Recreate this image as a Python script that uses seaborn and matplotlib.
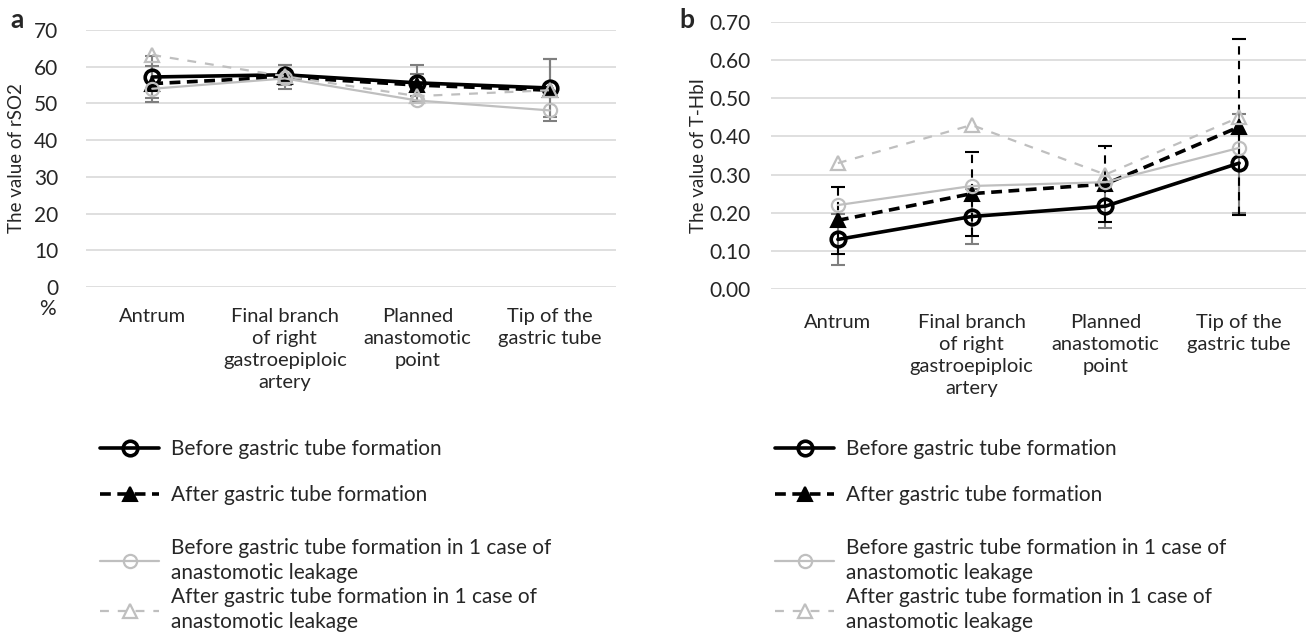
import matplotlib
matplotlib.use("Agg")
import matplotlib.pyplot as plt
import numpy as np
import seaborn as sns
from matplotlib.lines import Line2D

categories = ["Antrum", "Final branch\nof right\ngastroepiploic\nartery",
              "Planned\nanastomotic\npoint", "Tip of the\ngastric tube"]
series_labels = ["Before gastric tube formation",
                 "After gastric tube formation",
                 "Before gastric tube formation in 1 case of\nanastomotic leakage",
                 "After gastric tube formation in 1 case of\nanastomotic leakage"]

# panel a: rSO2 (%)
rso2_before = [57.2, 57.8, 55.6, 54.2]
rso2_after = [55.4, 57.2, 55.0, 53.6]
rso2_leak_before = [54.0, 56.8, 50.8, 48.1]
rso2_leak_after = [63.2, 57.4, 52.0, 53.6]
rso2_before_err = [5.8, 2.7, 5.0, 7.8]
rso2_after_err = [4.9, 3.3, 3.0, 8.5]

# panel b: T-HbI
thbi_before = [0.13, 0.19, 0.217, 0.33]
thbi_after = [0.18, 0.25, 0.275, 0.425]
thbi_leak_before = [0.22, 0.27, 0.28, 0.37]
thbi_leak_after = [0.33, 0.43, 0.30, 0.45]
thbi_before_err = [0.067, 0.072, 0.058, 0.13]
thbi_after_err = [0.087, 0.11, 0.10, 0.23]

BLACK = "#000000"
LGREY = "#BFBFBF"
EGREY = "#7F7F7F"
GRID = "#D9D9D9"

STYLES = [
    dict(color=BLACK, linewidth=2.6, linestyle="-", marker="o", markersize=10.5,
         markerfacecolor="none", markeredgecolor=BLACK, markeredgewidth=2.6),
    dict(color=BLACK, linewidth=2.6, linestyle=(0, (3, 1.8)), marker="^", markersize=10.5,
         markerfacecolor=BLACK, markeredgecolor=BLACK, markeredgewidth=1.5),
    dict(color=LGREY, linewidth=1.6, linestyle="-", marker="o", markersize=9.5,
         markerfacecolor="none", markeredgecolor=LGREY, markeredgewidth=1.6),
    dict(color=LGREY, linewidth=1.6, linestyle=(0, (4, 4)), marker="^", markersize=9.5,
         markerfacecolor="none", markeredgecolor=LGREY, markeredgewidth=1.6),
]

sns.set_style("white")
plt.rcParams["font.family"] = ["Lato", "DejaVu Sans"]

fig = plt.figure(figsize=(13.09, 6.42), dpi=100)
ax_a = fig.add_axes([86 / 1309, 1 - 287 / 642, 530 / 1309, 257 / 642])
ax_b = fig.add_axes([771 / 1309, 1 - 289 / 642, 535 / 1309, 267 / 642])

x = np.arange(len(categories))


def draw_panel(ax, series, errs, err_styles, ylim, yticks, fmt, ylabel, xpad, ypad):
    # error bars behind the lines
    for vals, y_err, (ecol, els, elw) in zip(series[:2], errs, err_styles):
        eb = ax.errorbar(x, vals, yerr=y_err, fmt="none", ecolor=ecol,
                         elinewidth=elw, capsize=5, capthick=elw, zorder=1)
        eb[2][0].set_linestyle(els)
    for vals, st in zip(series, STYLES):
        sns.lineplot(x=x, y=vals, ax=ax, zorder=3, **st)
    ax.set_ylim(*ylim)
    ax.set_xlim(-0.5, len(categories) - 0.5)
    ax.set_yticks(yticks)
    ax.set_yticklabels([fmt.format(v) for v in yticks], fontsize=15)
    ax.set_xticks(x)
    ax.set_xticklabels(categories, fontsize=14.5, linespacing=1.36)
    ax.tick_params(axis="x", length=0, pad=xpad)
    ax.tick_params(axis="y", length=0, pad=ypad)
    ax.grid(axis="y", color=GRID, linewidth=1.2)
    ax.set_axisbelow(True)
    for s in ax.spines.values():
        s.set_visible(False)
    ax.set_ylabel(ylabel, fontsize=13.5)


draw_panel(ax_a, [rso2_before, rso2_after, rso2_leak_before, rso2_leak_after],
           [rso2_before_err, rso2_after_err],
           [(EGREY, "-", 1.5), (EGREY, "-", 1.5)],
           (0, 70), np.arange(0, 71, 10), "{:.0f}", "The value of rSO2", 15, 20)
draw_panel(ax_b, [thbi_before, thbi_after, thbi_leak_before, thbi_leak_after],
           [thbi_before_err, thbi_after_err],
           [(EGREY, "-", 1.5), (BLACK, (0, (4, 3)), 1.5)],
           (0, 0.7), np.round(np.arange(0, 0.71, 0.1), 2), "{:.2f}", "The value of T-HbI", 18, 15)

ax_a.yaxis.set_label_coords(-0.115, 0.5)
ax_b.yaxis.set_label_coords(-0.12, 0.5)
ax_a.text(-0.072, -0.085, "%", transform=ax_a.transAxes, fontsize=15,
          ha="center", va="center")

fig.text(10 / 1309, 1 - 20 / 642, "a", fontsize=19, fontweight="bold", va="center")
fig.text(679 / 1309, 1 - 20 / 642, "b", fontsize=19, fontweight="bold", va="center")

handles = [Line2D([], [], **st) for st in STYLES]
for left in (100 / 1309, 775 / 1309):
    leg_kw = dict(frameon=False, fontsize=15, handlelength=2.85, handletextpad=0.55,
                  borderpad=0, borderaxespad=0, loc="upper left")
    leg1 = fig.legend(handles[:2], series_labels[:2], bbox_to_anchor=(left, 1 - 439 / 642),
                      labelspacing=1.25, **leg_kw)
    leg2 = fig.legend(handles[2:], series_labels[2:], bbox_to_anchor=(left, 1 - 538 / 642),
                      labelspacing=0.2, **leg_kw)
    for t in leg2.get_texts():
        t.set_linespacing(1.32)

fig.savefig("out.png", dpi=100)
